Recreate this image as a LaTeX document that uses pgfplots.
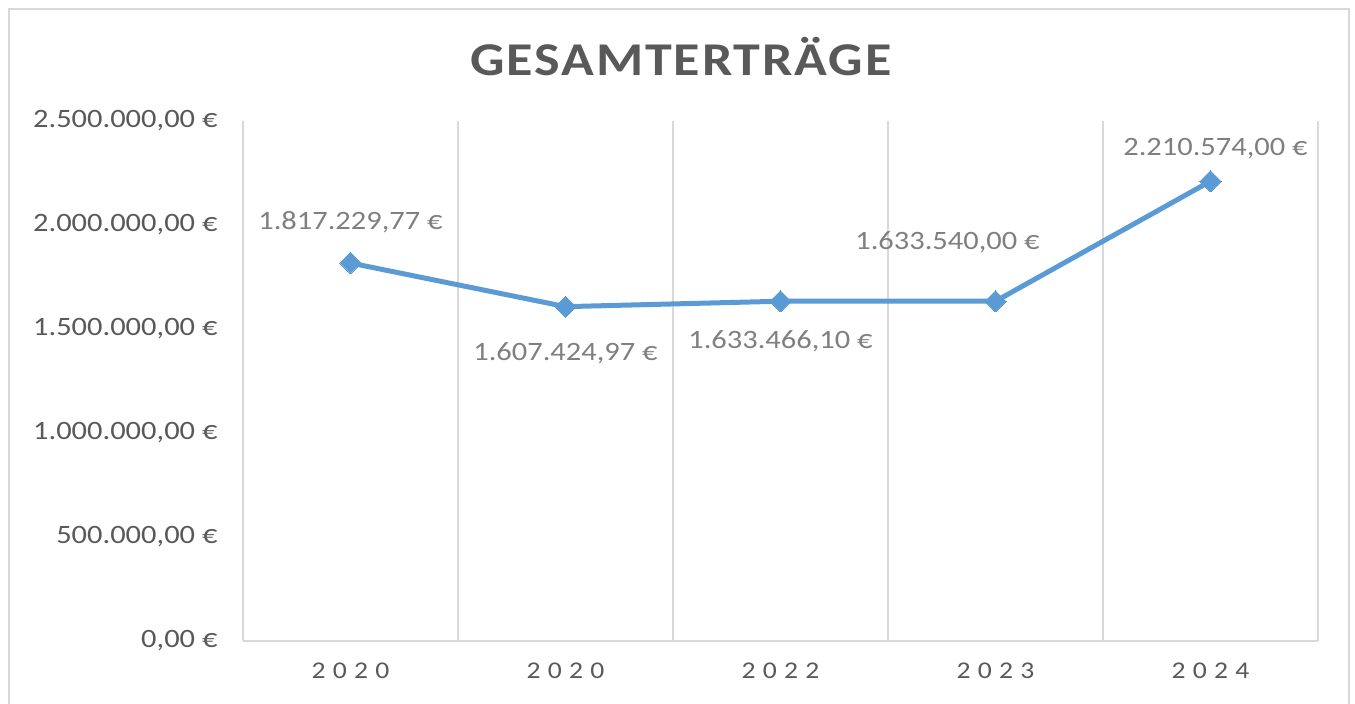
\documentclass[border=0pt]{standalone}
\usepackage{fontspec}
\setmainfont{Carlito}[FakeStretch=1.15]
\usepackage{pgfplots}
\pgfplotsset{compat=1.18}
\definecolor{linec}{HTML}{5B9BD5}
\definecolor{gridc}{HTML}{D9D9D9}
\definecolor{tickc}{HTML}{595959}
\definecolor{labc}{HTML}{7F7F7F}
\begin{document}
\begin{tikzpicture}[x=1pt,y=1pt]
\useasboundingbox (0,0) rectangle (1355,704);
\draw[gridc, line width=1.5pt] (9,-2) -- (9,695) -- (1349,695) -- (1349,-2);
\node[text=tickc, font=\fontsize{47}{50}\selectfont\bfseries\addfontfeature{LetterSpace=4}] at (681,647) {GESAMTERTRÄGE};
\begin{axis}[
  at={(243pt,63pt)}, anchor=south west,
  scale only axis, width=1075pt, height=520pt,
  xmin=-0.5, xmax=4.5, ymin=0, ymax=2500000,
  xtick={0,1,2,3,4},
  xticklabels={2020,2020,2022,2023,2024},
  minor xtick={-0.5,0.5,1.5,2.5,3.5,4.5},
  xminorgrids,
  minor grid style={gridc, line width=1.5pt},
  ytick={0,500000,1000000,1500000,2000000,2500000},
  yticklabels={{0,00 €},{500.000,00 €},{1.000.000,00 €},{1.500.000,00 €},{2.000.000,00 €},{2.500.000,00 €}},
  scaled y ticks=false,
  major tick length=0pt, minor tick length=0pt,
  axis x line*=bottom, axis y line*=left,
  x axis line style={gridc, line width=1.5pt, -},
  y axis line style={draw=none},
  tick label style={text=tickc},
  yticklabel style={font=\fontsize{26.5}{30}\selectfont, anchor=east, xshift=-22pt},
  xticklabel style={font=\fontsize{24}{28}\selectfont\addfontfeature{LetterSpace=30}, yshift=-18pt},
  clip=false,
]
\addplot[linec, line width=5pt, mark=square*, mark size=7.5pt, mark options={rotate=45, fill=linec, draw=linec, line width=0pt},
  point meta=explicit symbolic,
  visualization depends on={\thisrow{dx} \as \dx},
  visualization depends on={\thisrow{dy} \as \dy},
  nodes near coords,
  every node near coord/.append style={anchor=center, text=labc, font=\fontsize{26.5}{30}\selectfont, xshift=\dx pt, yshift=\dy pt},
] table[col sep=semicolon, x=x, y=y, meta=lab] {
x;y;dx;dy;lab
0;1817229.77;0;41;1.817.229,77 €
1;1607424.97;0;-47;1.607.424,97 €
2;1633466.10;0;-40;1.633.466,10 €
3;1633540.00;-48;59;1.633.540,00 €
4;2210574.00;5;33;2.210.574,00 €
};
\end{axis}
\end{tikzpicture}
\end{document}
